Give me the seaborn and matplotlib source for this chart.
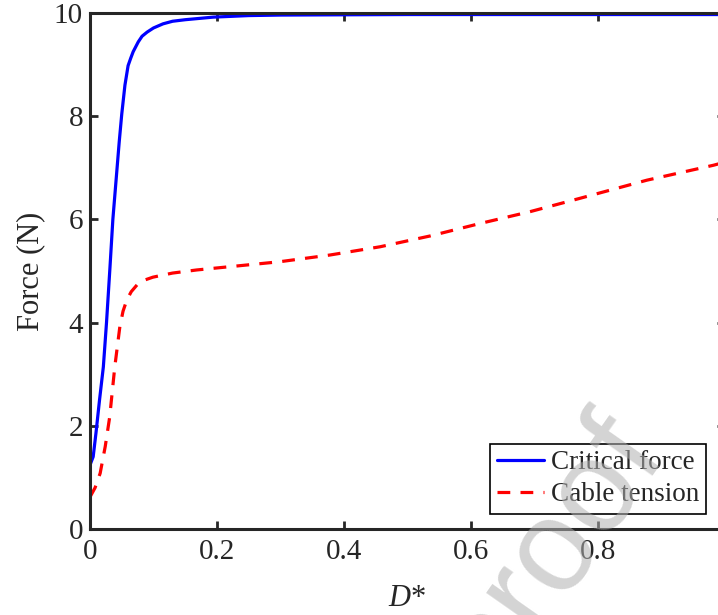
import numpy as np
import pandas as pd
import matplotlib
matplotlib.use("Agg")
import matplotlib.pyplot as plt
import seaborn as sns

# ====== data ======
d_critical = [0, 0.005, 0.0094, 0.015, 0.021, 0.026, 0.0315, 0.036, 0.042, 0.046, 0.050,
              0.055, 0.060, 0.064, 0.068, 0.076, 0.082, 0.090, 0.100, 0.115, 0.13, 0.15,
              0.194, 0.25, 0.3, 0.5, 1.0]
f_critical = [1.24, 1.40, 1.86, 2.5, 3.14, 4.0, 5.08, 6.0, 6.9, 7.5, 8.04,
              8.6, 8.98, 9.12, 9.25, 9.44, 9.55, 9.63, 9.71, 9.79, 9.84, 9.87,
              9.92, 9.95, 9.96, 9.97, 9.97]

d_cable = [0, 0.008, 0.016, 0.024, 0.031, 0.039, 0.047, 0.052, 0.058, 0.065, 0.074,
           0.085, 0.099, 0.13, 0.168, 0.299, 0.378, 0.457, 0.536, 0.614, 0.693,
           0.772, 0.877, 0.982, 1.0]
f_cable = [0.62, 0.8, 1.08, 1.6, 2.17, 3.14, 3.92, 4.22, 4.44, 4.6, 4.73,
           4.82, 4.88, 4.96, 5.02, 5.18, 5.31, 5.47, 5.68, 5.92, 6.15,
           6.41, 6.76, 7.05, 7.11]

x_ticks = [0, 0.2, 0.4, 0.6, 0.8, 1]
x_tick_labels = ['0', '0.2', '0.4', '0.6', '0.8', '1']
y_ticks = [0, 2, 4, 6, 8, 10]
# =========================================

sns.set_style("ticks")
plt.rcParams['font.family'] = ['Liberation Serif', 'DejaVu Serif']
plt.rcParams['mathtext.fontset'] = 'custom'
plt.rcParams['mathtext.rm'] = 'Liberation Serif'
plt.rcParams['mathtext.it'] = 'Liberation Serif:italic'

axis_col = '#262626'

fig = plt.figure(figsize=(7.18, 6.15), dpi=100)
ax = fig.add_axes([90/718, 86/615, 635/718, 516/615])

crit = pd.DataFrame({'D': d_critical, 'F': f_critical})
cable = pd.DataFrame({'D': d_cable, 'F': f_cable})

sns.lineplot(data=crit, x='D', y='F', ax=ax, color='blue', lw=2.3, label='Critical force')
sns.lineplot(data=cable, x='D', y='F', ax=ax, color='red', lw=2.3,
             linestyle=(0, (4, 3.2)), label='Cable tension')

ax.set_xlim(0, 1)
ax.set_ylim(0, 10)
ax.set_xticks(x_ticks)
ax.set_xticklabels(x_tick_labels)
ax.set_yticks(y_ticks)
ax.tick_params(direction='in', length=6, width=2, colors=axis_col,
               labelsize=21, top=True, right=True)
ax.tick_params(axis='y', pad=5)
ax.tick_params(axis='x', pad=7)
for sp in ax.spines.values():
    sp.set_linewidth(2.2)
    sp.set_color(axis_col)

ax.set_xlabel(r'$D$*', fontsize=22, color=axis_col, labelpad=14)
ax.set_ylabel('Force (N)', fontsize=22, color=axis_col, labelpad=6)

leg = ax.legend(loc='lower right', bbox_to_anchor=(0.970, 0.029), fontsize=19.5,
                frameon=True, fancybox=False, edgecolor='black', framealpha=1,
                handlelength=1.75, handletextpad=0.25, labelspacing=0.25,
                borderpad=0.25, borderaxespad=0)
leg.get_frame().set_linewidth(1.2)

# watermark
fig.text(668/718, 1 - 455/615, 'Journal Pre-proof', fontsize=94,
         family=['Liberation Sans', 'DejaVu Sans'], color='#b0b0b0', alpha=0.55,
         rotation=55, rotation_mode='anchor', ha='right', va='baseline', zorder=10)

fig.savefig('out.png', dpi=100)
